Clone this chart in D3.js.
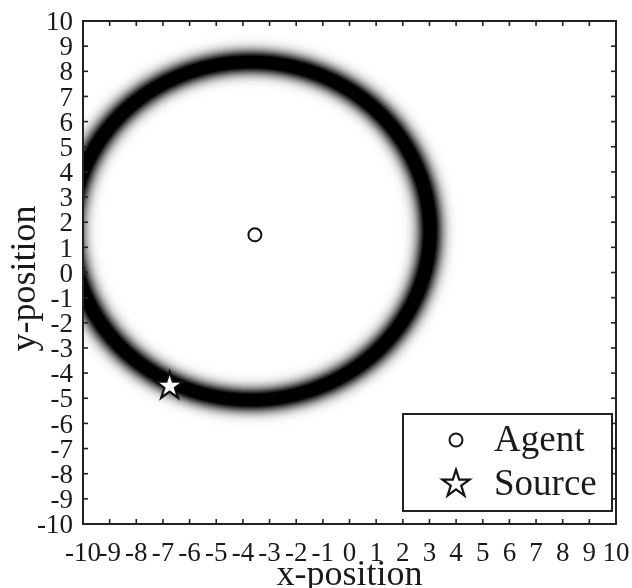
<!DOCTYPE html>
<html>
<head>
<meta charset="utf-8">
<script src="https://cdn.jsdelivr.net/npm/d3@7/dist/d3.min.js"></script>
<style>
  html, body { margin: 0; padding: 0; background: #fff; }
  #wrap { position: relative; width: 632px; height: 588px; }
  canvas, svg { position: absolute; left: 0; top: 0; }
  text { font-family: "Liberation Serif", "DejaVu Serif", serif; fill: #1a1a1a; }
</style>
</head>
<body>
<div id="wrap"><canvas id="cv" width="632" height="588"></canvas><svg id="sv" width="632" height="588"></svg></div>
<script>
// ---- data ----
const xTicks = [-10,-9,-8,-7,-6,-5,-4,-3,-2,-1,0,1,2,3,4,5,6,7,8,9,10];
const yTicks = [-10,-9,-8,-7,-6,-5,-4,-3,-2,-1,0,1,2,3,4,5,6,7,8,9,10];
const agent = [-3.55, 1.5];
const source = [-6.75, -4.52];
const ringCenter = [-3.7, 1.65];
const ringRadius = [6.72];
const ringSigma = [0.33];
const legendLabels = ["Agent", "Source"];

// ---- layout ----
const L = 83, R = 616, T = 21, B = 524;
const x = d3.scaleLinear().domain([-10, 10]).range([L, R]);
const y = d3.scaleLinear().domain([-10, 10]).range([B, T]);

// ---- heatmap (ring likelihood) on canvas ----
const cv = document.getElementById("cv");
const ctx = cv.getContext("2d");
const img = ctx.createImageData(R - L, B - T);
for (let py = 0; py < B - T; py++) {
  const vy = y.invert(T + py + 0.5);
  for (let px = 0; px < R - L; px++) {
    const vx = x.invert(L + px + 0.5);
    const d = Math.hypot(vx - ringCenter[0], vy - ringCenter[1]) - ringRadius[0];
    const g = Math.exp(-(d * d) / (2 * ringSigma[0] * ringSigma[0]));
    const v = Math.max(0, 1 - 1.25 * g);
    const c = Math.round(255 * v);
    const i = 4 * (py * (R - L) + px);
    img.data[i] = c; img.data[i+1] = c; img.data[i+2] = c; img.data[i+3] = 255;
  }
}
ctx.fillStyle = "#fff";
ctx.fillRect(0, 0, 632, 588);
ctx.putImageData(img, L, T);

// ---- svg ----
const svg = d3.select("#sv");
const stroke = "#222";

// frame
svg.append("rect").attr("x", L).attr("y", T).attr("width", R - L).attr("height", B - T)
  .attr("fill", "none").attr("stroke", stroke).attr("stroke-width", 2);

// inward ticks on all four sides
const tl = 5;
const tg = svg.append("g").attr("stroke", stroke).attr("stroke-width", 1.6);
xTicks.forEach(t => {
  tg.append("line").attr("x1", x(t)).attr("x2", x(t)).attr("y1", B).attr("y2", B - tl);
  tg.append("line").attr("x1", x(t)).attr("x2", x(t)).attr("y1", T).attr("y2", T + tl);
});
yTicks.forEach(t => {
  tg.append("line").attr("y1", y(t)).attr("y2", y(t)).attr("x1", L).attr("x2", L + tl);
  tg.append("line").attr("y1", y(t)).attr("y2", y(t)).attr("x1", R).attr("x2", R - tl);
});

// tick labels
svg.append("g").selectAll("text").data(xTicks).join("text")
  .attr("x", d => x(d)).attr("y", 561).attr("text-anchor", "middle")
  .attr("font-size", 27).text(d => d);
svg.append("g").selectAll("text").data(yTicks).join("text")
  .attr("x", 73).attr("y", d => y(d)).attr("dy", "0.34em").attr("text-anchor", "end")
  .attr("font-size", 27).text(d => d);

// axis labels
svg.append("text").attr("x", (L + R) / 2).attr("y", 585).attr("text-anchor", "middle")
  .attr("font-size", 36).text("x-position");
svg.append("text").attr("transform", `translate(35, ${(T + B) / 2 + 6}) rotate(-90)`)
  .attr("text-anchor", "middle").attr("font-size", 36).text("y-position");

// markers
const starPath = d3.symbol().type(d3.symbolStar).size(230)();
svg.append("circle").attr("cx", x(agent[0])).attr("cy", y(agent[1])).attr("r", 6.5)
  .attr("fill", "none").attr("stroke", "#111").attr("stroke-width", 2);
svg.append("path").attr("d", starPath)
  .attr("transform", `translate(${x(source[0])},${y(source[1])})`)
  .attr("fill", "#fff").attr("stroke", "#111").attr("stroke-width", 2.2);

// legend
const lg = svg.append("g");
lg.append("rect").attr("x", 403).attr("y", 414).attr("width", 209).attr("height", 97)
  .attr("fill", "#fff").attr("stroke", stroke).attr("stroke-width", 2);
lg.append("circle").attr("cx", 456).attr("cy", 440).attr("r", 6.5)
  .attr("fill", "none").attr("stroke", "#111").attr("stroke-width", 2);
lg.append("path").attr("d", starPath).attr("transform", "translate(456,484)")
  .attr("fill", "#fff").attr("stroke", "#111").attr("stroke-width", 2.2);
lg.append("text").attr("x", 494).attr("y", 451).attr("font-size", 37).text(legendLabels[0]);
lg.append("text").attr("x", 494).attr("y", 495).attr("font-size", 37).text(legendLabels[1]);
</script>
</body>
</html>
